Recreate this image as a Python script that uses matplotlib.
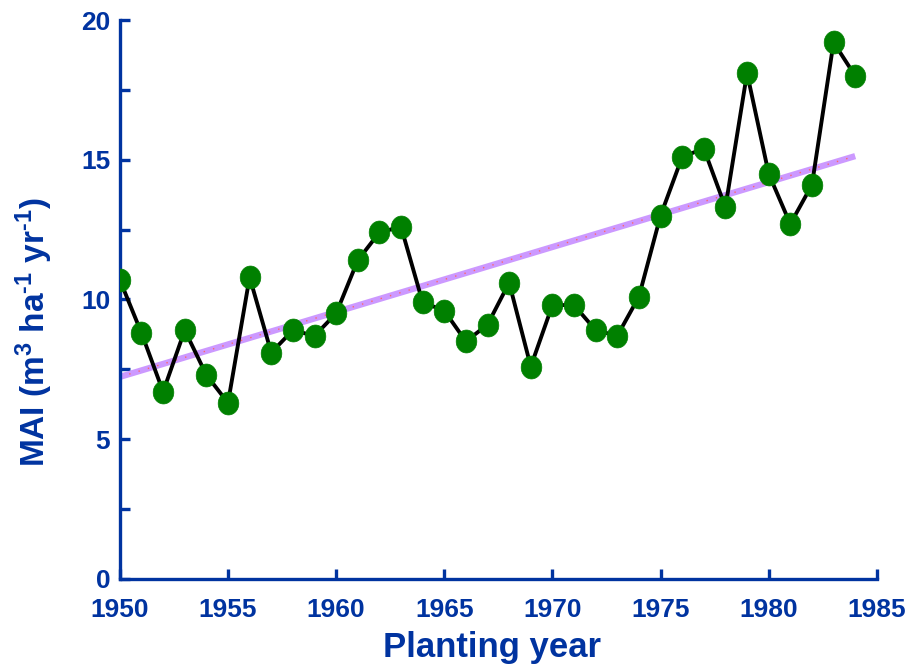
import matplotlib
matplotlib.use("Agg")
import matplotlib.pyplot as plt
from matplotlib.path import Path
import numpy as np

years = list(range(1950, 1985))
mai = [10.7, 8.8, 6.7, 8.9, 7.3, 6.3, 10.8, 8.1, 8.9, 8.7,
       9.5, 11.4, 12.4, 12.6, 9.9, 9.6, 8.5, 9.1, 10.6, 7.6,
       9.8, 9.8, 8.9, 8.7, 10.1, 13.0, 15.1, 15.4, 13.3, 18.1,
       14.5, 12.7, 14.1, 19.2, 18.0]

trend_years = [1950, 1984]
trend_values = [7.23, 15.13]

x_ticks = [1950, 1955, 1960, 1965, 1970, 1975, 1980, 1985]
y_ticks = [0, 5, 10, 15, 20]
y_minor = [2.5, 7.5, 12.5, 17.5]

blue = "#0033a0"
plt.rcParams["font.family"] = ["Liberation Sans", "DejaVu Sans"]
plt.rcParams["font.weight"] = "bold"
plt.rcParams["mathtext.fontset"] = "custom"
plt.rcParams["mathtext.rm"] = "Liberation Sans:bold"
plt.rcParams["mathtext.bf"] = "Liberation Sans:bold"
plt.rcParams["mathtext.default"] = "bf"

# slightly tall ellipse marker
t = np.linspace(0, 2 * np.pi, 60)
ellipse = Path(np.column_stack([0.9 * np.cos(t), np.sin(t)]), closed=True)

fig = plt.figure(figsize=(9.22, 6.67), dpi=100)
ax = fig.add_axes([0.130, 0.132, 0.821, 0.838])

ax.plot(trend_years, trend_values, color="#cc99ff", lw=4.5, solid_capstyle="butt", zorder=2)
ax.plot(trend_years, trend_values, color="#ff6666", lw=1.0, ls=(0, (1, 6)), zorder=2.5)
ax.plot(years, mai, color="black", lw=2.8, zorder=3)
ax.plot(years, mai, ls="none", marker=ellipse, ms=16.5, mfc="#008000", mec="#008000",
        mew=0.5, zorder=4)

ax.set_xlim(1950, 1985)
ax.set_ylim(0, 20)
ax.set_xticks(x_ticks)
ax.set_yticks(y_ticks)
ax.set_yticks(y_minor, minor=True)

for s in ["top", "right"]:
    ax.spines[s].set_visible(False)
for s in ["left", "bottom"]:
    ax.spines[s].set_color(blue)
    ax.spines[s].set_linewidth(2.4)

ax.tick_params(axis="both", which="both", direction="in", color=blue, width=2.4,
               length=7, labelcolor=blue, labelsize=19)
ax.tick_params(axis="y", pad=7)
ax.tick_params(axis="x", pad=14)
for lab in ax.get_xticklabels() + ax.get_yticklabels():
    lab.set_fontweight("bold")

ax.set_xlabel("Planting year", color=blue, fontsize=25, fontweight="bold")
ax.set_ylabel("MAI (m$^{3}$ ha$^{\u2010 1}$ yr$^{\u2010 1}$)", color=blue,
              fontsize=24, fontweight="bold")
ax.xaxis.set_label_coords(0.492, -0.093)
ax.yaxis.set_label_coords(-0.086, 0.442)

fig.savefig("out.png", dpi=100)
